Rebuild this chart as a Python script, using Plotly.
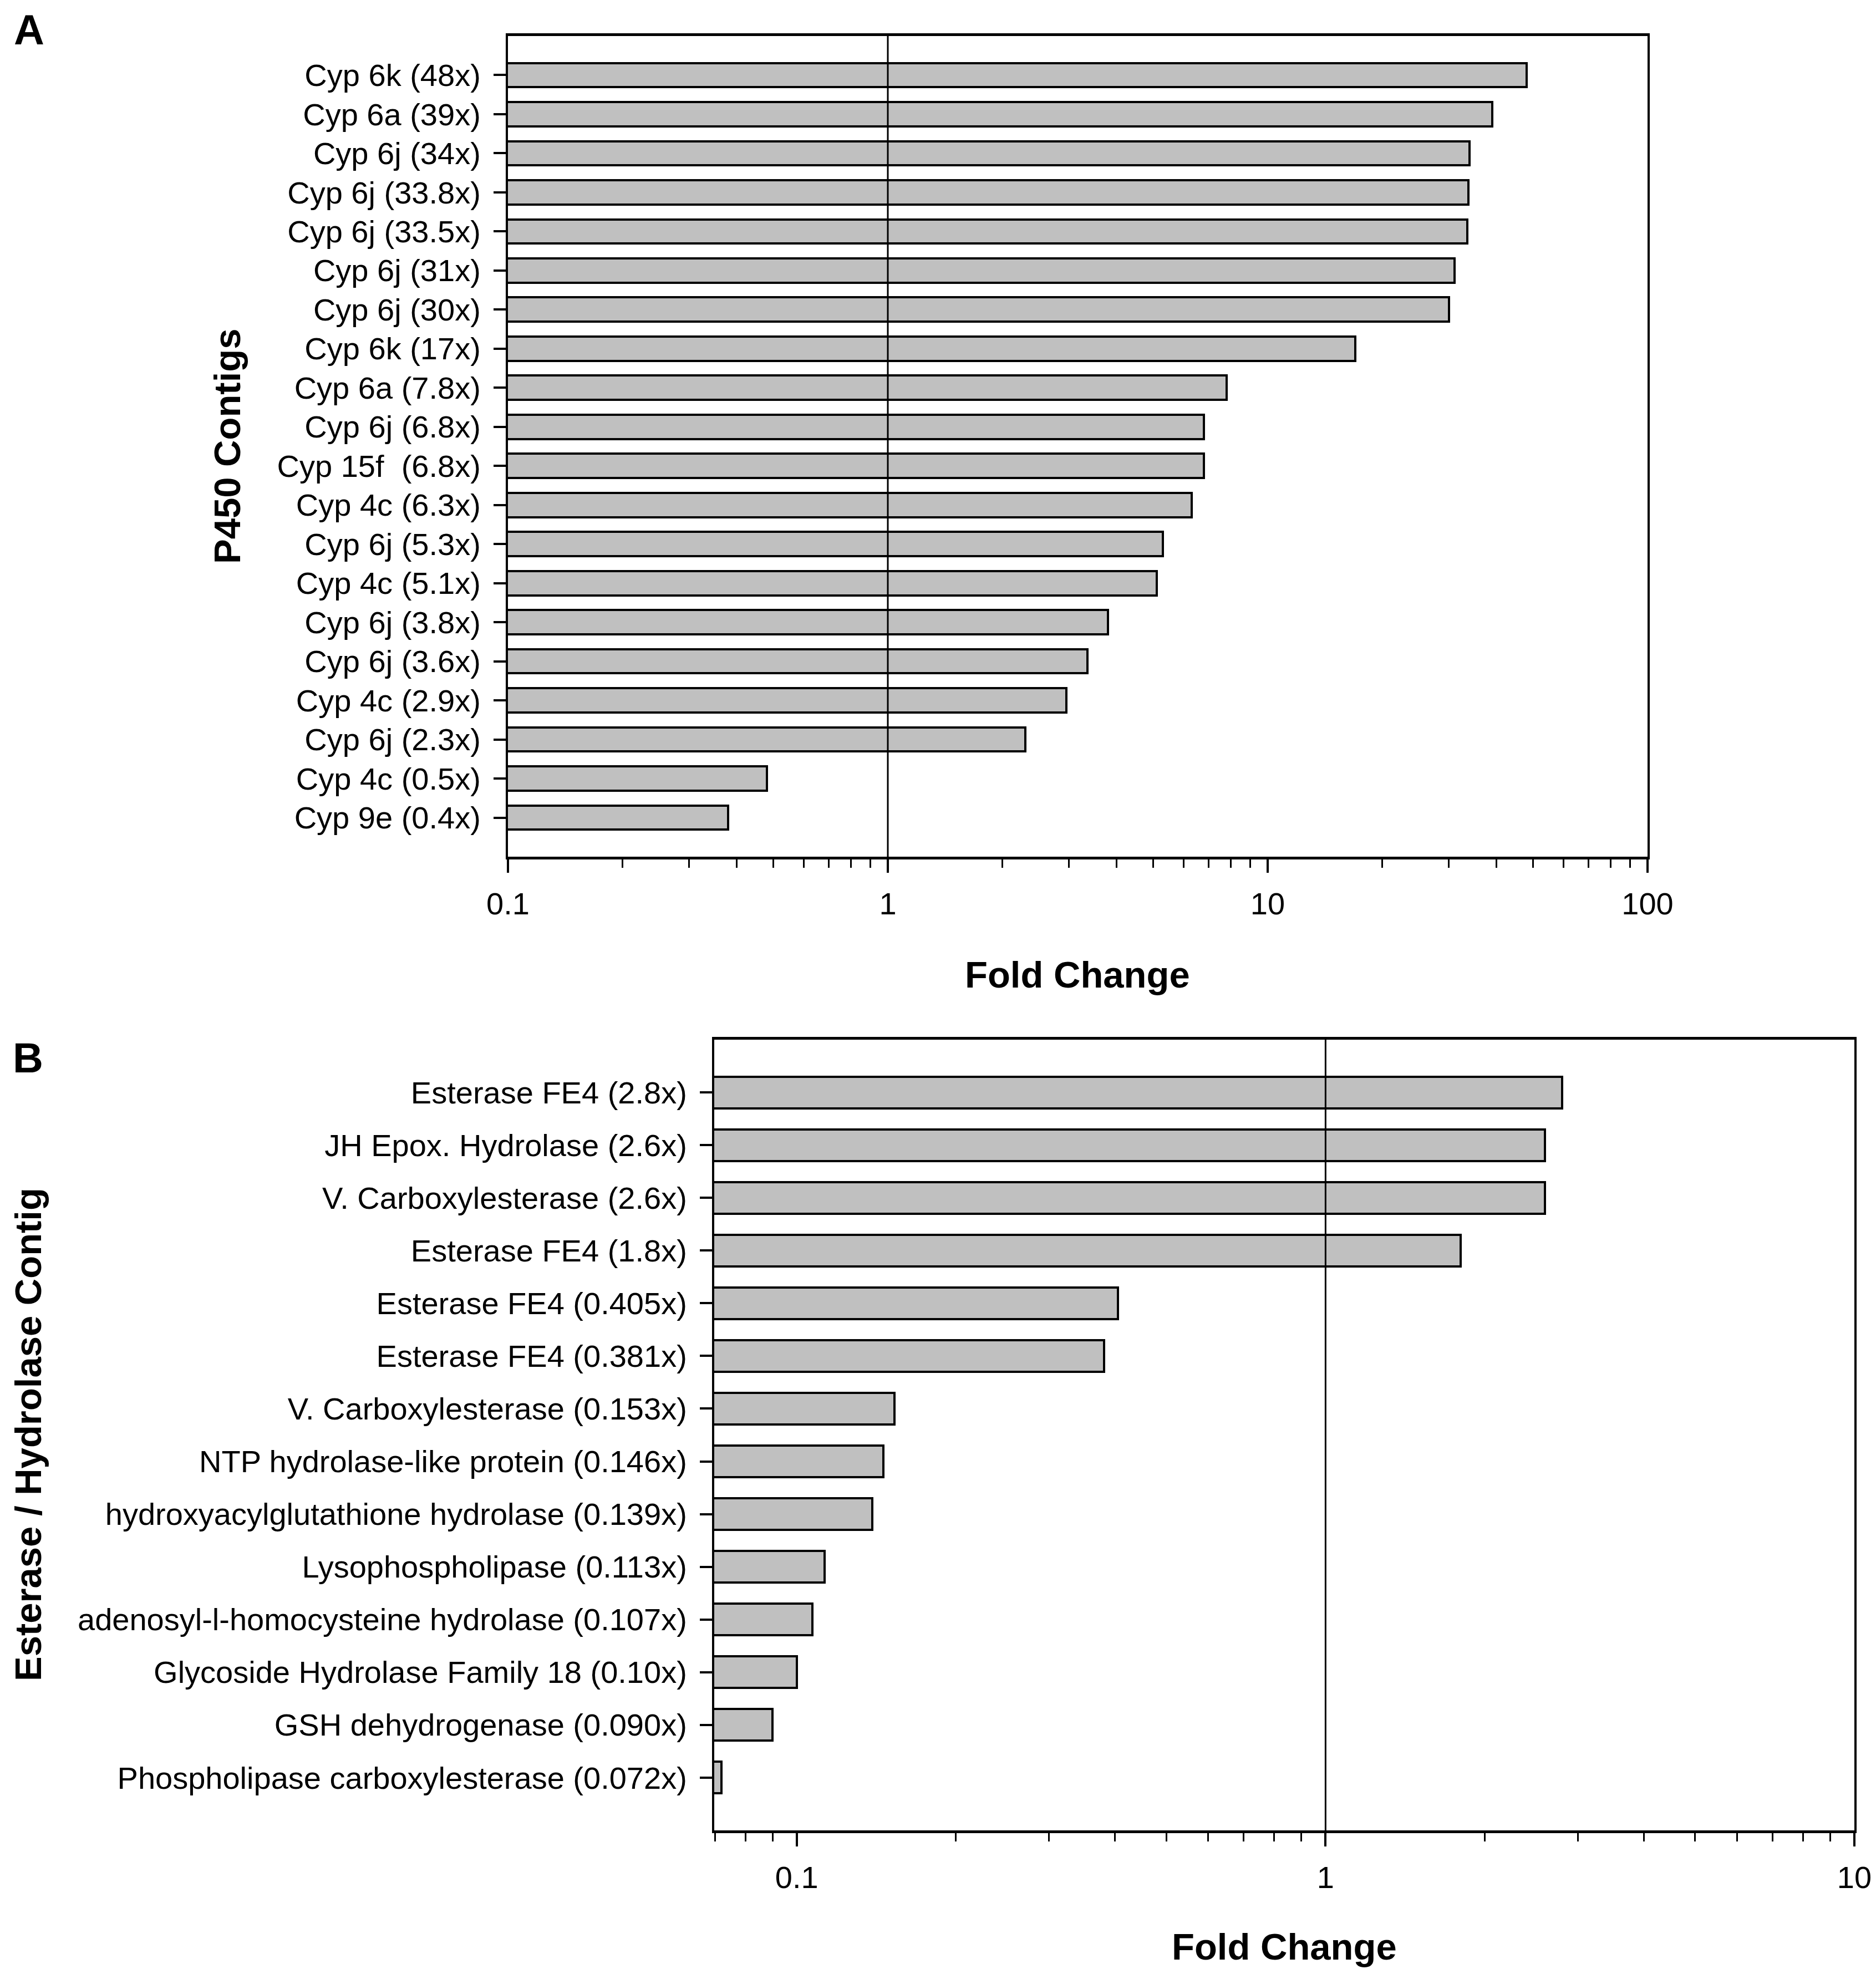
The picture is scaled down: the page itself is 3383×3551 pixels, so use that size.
import plotly.graph_objects as go

W, H = 3383, 3551
OFF = 8  # page body margin offset

# ---------------- data ----------------
p450_labels = [
    "Cyp 6k (48x)", "Cyp 6a (39x)", "Cyp 6j (34x)", "Cyp 6j (33.8x)", "Cyp 6j (33.5x)",
    "Cyp 6j (31x)", "Cyp 6j (30x)", "Cyp 6k (17x)", "Cyp 6a (7.8x)", "Cyp 6j (6.8x)",
    "Cyp 15f\u00a0 (6.8x)", "Cyp 4c (6.3x)", "Cyp 6j (5.3x)", "Cyp 4c (5.1x)", "Cyp 6j (3.8x)",
    "Cyp 6j (3.6x)", "Cyp 4c (2.9x)", "Cyp 6j (2.3x)", "Cyp 4c (0.5x)", "Cyp 9e (0.4x)",
]
p450_values = [48, 39, 34, 33.8, 33.5, 31, 30, 17, 7.8, 6.8,
               6.8, 6.3, 5.3, 5.1, 3.8, 3.35, 2.95, 2.3, 0.48, 0.38]

est_labels = [
    "Esterase FE4 (2.8x)", "JH Epox. Hydrolase (2.6x)", "V. Carboxylesterase (2.6x)",
    "Esterase FE4 (1.8x)", "Esterase FE4 (0.405x)", "Esterase FE4 (0.381x)",
    "V. Carboxylesterase (0.153x)", "NTP hydrolase-like protein (0.146x)",
    "hydroxyacylglutathione hydrolase (0.139x)", "Lysophospholipase (0.113x)",
    "adenosyl-l-homocysteine hydrolase (0.107x)", "Glycoside Hydrolase Family 18 (0.10x)",
    "GSH dehydrogenase (0.090x)", "Phospholipase carboxylesterase (0.072x)",
]
est_values = [2.8, 2.6, 2.6, 1.8, 0.405, 0.381, 0.153, 0.146, 0.139, 0.113,
              0.107, 0.10, 0.090, 0.072]

a_tickvals = [0.1, 1, 10, 100]
a_ticktext = ["0.1", "1", "10", "100"]
b_tickvals = [0.1, 1, 10]
b_ticktext = ["0.1", "1", "10"]

# ---------------- style ----------------
FONT = "Liberation Sans, Arial, sans-serif"
tick_font = dict(family=FONT, size=56, color="black")
title_font = dict(family=FONT, size=67, color="black", weight="bold")
letter_font = dict(family=FONT, size=76, color="black", weight="bold")
BAR_FILL = "#c0c0c0"

def px_x(v):
    return (v - OFF) / W

def px_y(v):
    return 1 - (v - OFF) / H

a_minor = [m * d for d in (0.1, 1, 10) for m in range(2, 10)]
b_minor = [0.07, 0.08, 0.09] + [m * d for d in (0.1, 1) for m in range(2, 10)]

fig = go.Figure()
fig.add_trace(go.Bar(
    x=p450_values, y=p450_labels, orientation="h", xaxis="x", yaxis="y",
    marker=dict(color=BAR_FILL, line=dict(color="black", width=4)), width=0.62,
))
fig.add_trace(go.Bar(
    x=est_values, y=est_labels, orientation="h", xaxis="x2", yaxis="y2",
    marker=dict(color=BAR_FILL, line=dict(color="black", width=4)), width=0.6,
))


def xaxis(domain, rng, tickvals, ticktext, minor_vals, anchor):
    return dict(
        type="log", domain=domain, range=rng, anchor=anchor, automargin=False,
        tickmode="array", tickvals=tickvals, ticktext=ticktext,
        ticks="outside", ticklen=24, tickwidth=3.5, tickcolor="black",
        showline=True, linecolor="black", linewidth=4.5, mirror=True,
        showgrid=False, zeroline=False, ticklabelstandoff=8, tickfont=tick_font,
        minor=dict(tickmode="array", tickvals=minor_vals, ticks="outside",
                   ticklen=15, tickwidth=3, tickcolor="black", showgrid=False),
    )


def yaxis(domain, labels, anchor):
    n = len(labels)
    return dict(
        domain=domain, anchor=anchor, type="category", automargin=False,
        categoryorder="array", categoryarray=labels, range=[n, -1],
        ticks="outside", ticklen=22, tickwidth=3.5, tickcolor="black",
        showline=True, linecolor="black", linewidth=4, mirror=True,
        showgrid=False, zeroline=False, ticklabelstandoff=12, tickfont=tick_font,
    )


a_x_dom = [px_x(916), px_x(2971)]
a_y_dom = [px_y(1545), px_y(65)]
b_x_dom = [px_x(1288), px_x(3344)]
b_y_dom = [px_y(3301), px_y(1875)]

fig.update_layout(
    width=W, height=H, autosize=False,
    margin=dict(l=0, r=0, t=0, b=0, pad=0, autoexpand=False),
    paper_bgcolor="white", plot_bgcolor="white",
    showlegend=False, bargap=0,
    xaxis=xaxis(a_x_dom, [-1, 2], a_tickvals, a_ticktext, a_minor, "y"),
    yaxis=yaxis(a_y_dom, p450_labels, "x"),
    xaxis2=xaxis(b_x_dom, [-1.156, 1], b_tickvals, b_ticktext, b_minor, "y2"),
    yaxis2=yaxis(b_y_dom, est_labels, "x2"),
    shapes=[
        dict(type="line", xref="x", yref="y domain", x0=1, x1=1, y0=0, y1=1,
             line=dict(color="black", width=3), layer="above"),
        dict(type="line", xref="x2", yref="y2 domain", x0=1, x1=1, y0=0, y1=1,
             line=dict(color="black", width=3), layer="above"),
    ],
    annotations=[
        dict(text="A", x=px_x(52), y=px_y(54), xref="paper", yref="paper",
             xanchor="center", yanchor="middle", showarrow=False, font=letter_font),
        dict(text="B", x=px_x(50), y=px_y(1907), xref="paper", yref="paper",
             xanchor="center", yanchor="middle", showarrow=False, font=letter_font),
        dict(text="Fold Change", x=px_x(1943), y=px_y(1757), xref="paper", yref="paper",
             xanchor="center", yanchor="middle", showarrow=False, font=title_font),
        dict(text="P450 Contigs", x=px_x(410), y=px_y(805), xref="paper", yref="paper",
             xanchor="center", yanchor="middle", showarrow=False, font=title_font,
             textangle=-90),
        dict(text="Fold Change", x=px_x(2316), y=px_y(3510), xref="paper", yref="paper",
             xanchor="center", yanchor="middle", showarrow=False, font=title_font),
        dict(text="Esterase / Hydrolase Contig", x=px_x(50), y=px_y(2587),
             xref="paper", yref="paper", xanchor="center", yanchor="middle",
             showarrow=False, font=title_font, textangle=-90),
    ],
)

fig.write_html("out.html")
